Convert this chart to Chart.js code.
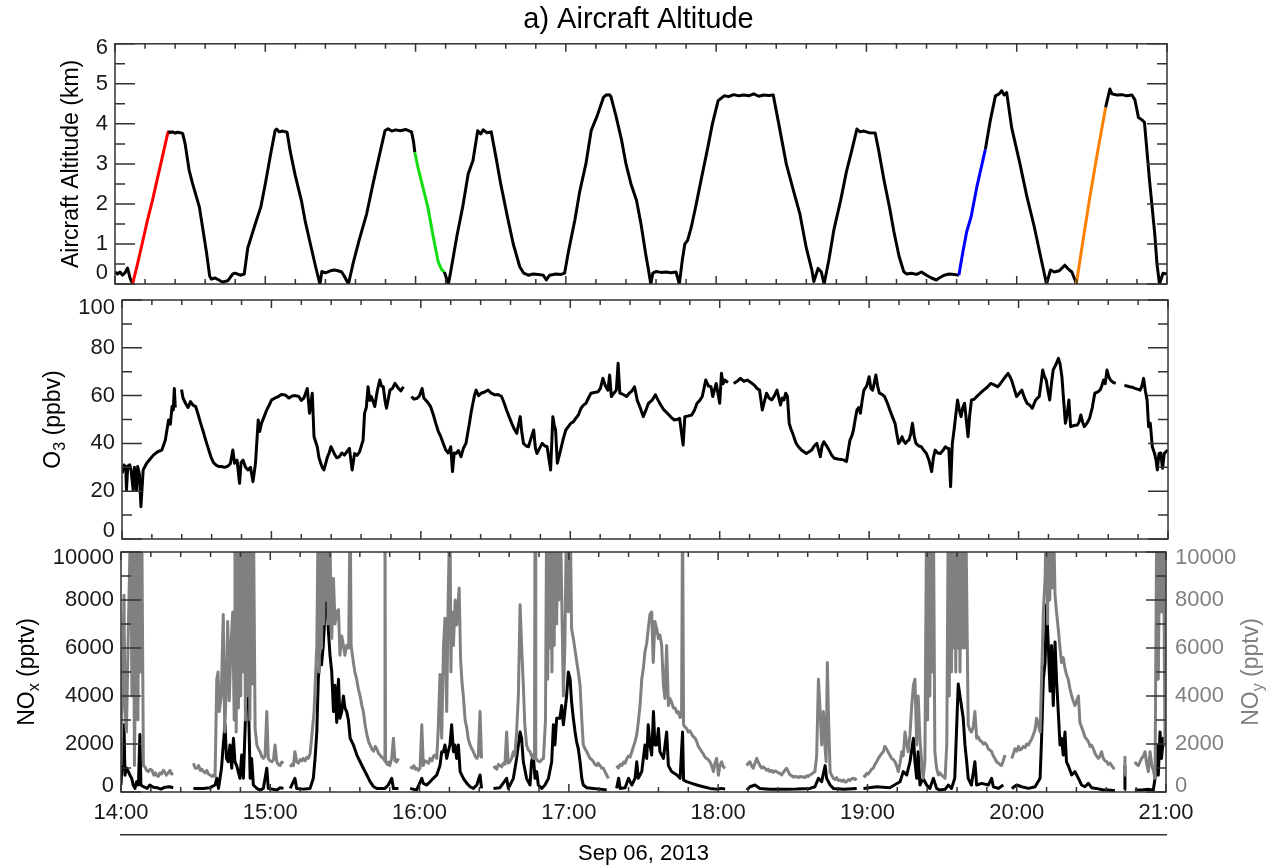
<!DOCTYPE html>
<html>
<head>
<meta charset="utf-8">
<title>Aircraft altitude, O3, NOx and NOy - Sep 06, 2013</title>
<script src="https://cdn.jsdelivr.net/npm/chart.js@4.4.1/dist/chart.umd.min.js"></script>
<style>
  body { margin: 0; background: #fff; }
  #wrap { position: relative; width: 1277px; height: 867px; overflow: hidden; background: #fff; }
  canvas { position: absolute; left: 0; }
</style>
</head>
<body>
<div id="wrap">
  <canvas id="altChart" width="1277" height="300" style="top:0px"></canvas>
  <canvas id="o3Chart" width="1277" height="260" style="top:290px"></canvas>
  <canvas id="noChart" width="1277" height="322" style="top:545px"></canvas>
</div>
<script>
// x values are minutes after 14:00
const hourLabels = ['14:00', '15:00', '16:00', '17:00', '18:00', '19:00', '20:00', '21:00'];

// Aircraft altitude (km)
const altTime = [0, 1, 2, 3, 4, 5, 6, 7,
  9, 11, 13, 15, 17, 19, 21, 21.5,
  22, 23, 24, 25, 26, 27,
  28, 29.6, 31, 33.7, 35, 36.5, 37.8, 38.5,
  40, 42, 43, 45, 47, 48, 50, 51.6,
  53, 55, 56.5, 58.2, 60, 62, 63.9,
  64.5, 65.5, 67, 68.7,
  70, 72, 74.4, 76, 78, 80.1, 81.8,
  82.6, 84, 86, 87.5, 89, 90.5, 91.5, 93.2,
  95, 97.5, 100.5, 103, 105.5, 107.8,
  109, 110.5, 112, 114, 116, 118.4,
  119.2, 119.7, 121, 123, 124.9, 127, 129, 130.5, 131.5,
  133.1,
  134, 136.5, 138.8, 141, 142.9, 144.8,
  146, 147, 148.5, 150.2,
  152, 154, 156.7, 159, 161.6, 163.2,
  165, 167, 169, 171, 172.2, 173.5, 176, 178, 179.5,
  181, 183.6, 185.5, 188, 190.1, 192.5, 195, 196, 197.4, 198,
  200, 202.3, 204, 206, 208.2, 210, 212, 213, 213.9,
  214.7, 216, 218, 220, 222, 224, 225.3,
  226.5, 227.5, 228.6, 230, 231.8, 234, 236.7, 238.5, 240.8, 243.2,
  245, 247, 249, 251, 253, 255, 257, 259, 261, 262.8,
  265, 268, 271, 273.4, 276, 278.2, 279, 280.7, 282, 283.1,
  285, 287, 289.7, 292, 294, 296.2,
  297.5, 299, 301, 303.5,
  305, 307, 309.2, 311, 313, 314.9,
  316, 318, 320, 322, 324, 326, 327.9, 329, 331, 333, 335, 336.9,
  338.5, 340, 341.8, 344, 347.5,
  349.5, 351.5, 353, 354, 355, 356,
  358, 361.3, 364, 367, 369.5, 371.9,
  373.5, 375, 377, 379.2, 380.5, 382, 383.3, 383.8,
  386, 389, 392, 395.5,
  397.2, 398, 400, 402, 404, 406, 407.2, 408.6, 410, 411,
  413, 415.1, 416, 417, 418.4, 420];
const altKm = [0.30, 0.25, 0.30, 0.22, 0.28, 0.40, 0.15, 0.0,
  0.5, 1.05, 1.6, 2.1, 2.65, 3.2, 3.75, 3.83,
  3.78, 3.80, 3.77, 3.79, 3.78, 3.76,
  3.5, 2.84, 2.5, 1.92, 1.4, 0.8, 0.2, 0.12,
  0.15, 0.08, 0.05, 0.08, 0.25, 0.27, 0.22, 0.25,
  0.9, 1.3, 1.6, 1.92, 2.5, 3.2, 3.83,
  3.87, 3.8, 3.82, 3.79,
  3.3, 2.7, 2.09, 1.55, 1.0, 0.43, 0.0,
  0.31, 0.28, 0.33, 0.35, 0.33, 0.3, 0.2, 0.0,
  0.5, 1.1, 1.76, 2.5, 3.2, 3.83,
  3.88, 3.82, 3.85, 3.83, 3.86, 3.8,
  3.55, 3.29, 2.9, 2.4, 1.92, 1.2, 0.56, 0.35, 0.3,
  0.0,
  0.3, 1.2, 1.92, 2.75, 3.08, 3.83,
  3.75, 3.85, 3.78, 3.8,
  3.2, 2.5, 1.67, 1.0, 0.43, 0.27,
  0.22, 0.25, 0.24, 0.22, 0.1, 0.22, 0.25, 0.24, 0.27,
  0.8, 1.6, 2.3, 3.0, 3.83, 4.2, 4.66, 4.72, 4.73, 4.68,
  4.2, 3.58, 3.0, 2.5, 2.09, 1.5, 0.7, 0.35, 0.0,
  0.27, 0.31, 0.29, 0.3, 0.28, 0.3, 0.0,
  0.6, 1.0, 1.09, 1.4, 1.92, 2.6, 3.42, 4.0, 4.58, 4.7,
  4.68, 4.73, 4.7, 4.72, 4.7, 4.75, 4.69, 4.72, 4.71, 4.72,
  4.0, 3.0, 2.3, 1.76, 0.9, 0.35, 0.06, 0.39, 0.3, 0.0,
  0.6, 1.35, 2.09, 2.8, 3.3, 3.87,
  3.8, 3.82, 3.78, 3.77,
  3.3, 2.6, 1.92, 1.3, 0.7, 0.31,
  0.25, 0.27, 0.24, 0.3, 0.22, 0.15, 0.1, 0.15, 0.22, 0.25, 0.24, 0.22,
  0.8, 1.3, 1.68, 2.4, 3.37,
  4.1, 4.7, 4.75, 4.83, 4.72, 4.78,
  3.9, 3.0, 2.2, 1.43, 0.7, 0.0,
  0.35, 0.3, 0.33, 0.47, 0.38, 0.3, 0.1, 0.0,
  0.9, 2.09, 3.2, 4.41,
  4.87, 4.75, 4.72, 4.73, 4.7, 4.72, 4.6, 4.16, 4.1, 4.04,
  2.6, 1.26, 0.5, 0.0, 0.27, 0.25];

// highlighted profiles (start / end minute and colour)
const profileStart = [7, 119.7, 336.9, 383.8];
const profileEnd = [21.5, 131.5, 347.5, 395.5];
const profileColors = ['#ff0000', '#11dd11', '#0000ff', '#ff8000'];

// O3 (ppbv)
const o3Time = [0.1, 0.8, 1.5, 1.8, 2.3, 3.1, 3.6, 4.5, 5, 5.8,
  6.3, 7, 7.6, 8.5, 9.9, 11.3, 12.6, 14.3, 16, 17.4,
  18.7, 19.4, 20.1, 20.6, 21, 21.4, 22.5, 23.9, 24.5, 25.5,
  26.5, 27.5, 28.5, 29.6, 30.6, 31.6, 32.6, 33.6, 34.6, 35.7,
  36.7, 37.7, 38.8, 39.8, 41.2, 42.5, 43.5, 44.5, 45.2, 46.2,
  47.2, 47.8, 48.6, 49.6, 50.6, 51.6, 52.6, 53.6, 54.7, 55.3,
  56, 57, 58.1, 59.1, 60.1, 61.5, 62.8, 64, 65.5, 67,
  68.3, 69.6, 71, 72, 73, 74.4, 75.3, 76.4, 77.1, 78.4,
  79.1, 79.8, 80.4, 81.1, 82.5, 83.2, 83.9, 85.2, 86.2, 87.2,
  88.3, 89.3, 90.3, 91.3, 92.4, 93.4, 94.4, 95.4, 96.8, 97.4,
  98.1, 98.8, 99.5, 100.1, 101.5, 102.5, 103.5, 104.2, 104.9, 105.6,
  106.2, 107.6, 108.6, 109.6, 111, 112, 113, 113.3, 116.2, 117.3,
  118.5, 119.5, 120.5, 121.2, 121.9, 122.9, 123.9, 125, 126, 127,
  128, 129, 130, 131, 132, 132.7, 133.4, 134.1, 135.1, 136.1,
  137.1, 138.1, 139.5, 140.2, 140.9, 141.5, 142.2, 143.2, 144.2, 145.6,
  147, 148.3, 149.7, 151, 152.4, 153.4, 154.4, 155.5, 156.5, 157.5,
  158.5, 159.9, 160.5, 161.2, 162.2, 163.2, 164.2, 165.3, 166, 166.6,
  167.7, 168.7, 169.7, 170.7, 172.1, 173, 173.5, 174.1, 174.8, 176.1,
  177.2, 178.2, 179.2, 180.2, 181.2, 182.2, 183.3, 184.3, 185.3, 186.3,
  187.3, 188.3, 189.7, 191.1, 192.1, 193.1, 194.1, 195.1, 195.8, 196.5,
  197.5, 198.5, 199.2, 199.9, 201.2, 202.6, 203.7, 204.8, 205.8, 206.9,
  207.9, 209.3, 210.4, 211.4, 212.8, 214.2, 215.3, 216.3, 217.6, 219,
  220.4, 221.8, 222.9, 223.9, 225.3, 226, 227.4, 228.8, 229.9, 230.9,
  232, 233, 234.4, 235.5, 236.5, 237.2, 238.6, 240, 240.7, 241.4,
  242.1, 243.3, 243.6, 245.6, 247, 248.3, 249.7, 251.1, 252.5, 253.9,
  255, 256, 257.1, 258.8, 259.8, 260.9, 262, 263, 264.4, 265.1,
  265.8, 266.5, 267.2, 267.9, 268.6, 269.3, 270, 270.7, 271.7, 272.8,
  273.8, 274.8, 275.9, 276.9, 278, 279, 280.4, 281.1, 281.8, 282.9,
  283.9, 285, 286, 287.4, 288.8, 289.9, 290.9, 291.6, 292.3, 293,
  293.7, 294.4, 295.1, 295.8, 296.5, 297.2, 297.9, 299, 300, 300.7,
  301.4, 302, 302.7, 303.4, 304.1, 305.2, 306.2, 307.3, 308.3, 309.4,
  310.4, 311.1, 311.8, 312.5, 313.2, 313.9, 314.6, 315.3, 316, 316.7,
  317.4, 318.1, 318.8, 319.9, 320.9, 322, 323, 324, 325.1, 325.8,
  326.5, 327.5, 328.6, 329.6, 330.6, 331.3, 332, 332.7, 333.4, 334.1,
  334.8, 335.5, 336.2, 336.9, 337.6, 338.3, 339, 339.7, 340.4, 341.1,
  342.2, 343.2, 344.6, 346, 347.4, 348.8, 350.2, 351.6, 352.7, 353.7,
  354.8, 355.8, 356.5, 357.2, 358.2, 359.2, 360.3, 361.3, 362.4, 363.4,
  364.5, 365.5, 366.2, 366.9, 367.6, 368.3, 369, 369.7, 370.4, 371.1,
  371.8, 372.5, 373.2, 373.9, 375, 376, 376.7, 377.4, 378.1, 378.8,
  379.5, 380.2, 380.9, 382.3, 383.6, 384.3, 385, 385.7, 386.4, 387.5,
  388.5, 389.6, 390.6, 391.7, 392.7, 393.4, 394.1, 394.8, 395.5, 396.2,
  396.9, 398, 399, 399.3, 402.5, 403.5, 404.6, 405.6, 406.7, 407.7,
  408.8, 409.5, 410.2, 410.9, 411.6, 412.2, 412.9, 413.7, 414.6, 415.2,
  415.7, 416.4, 417.1, 417.8, 418.5, 419.2, 419.9];
const o3Ppbv = [27.5, 31, 30, 20.5, 30.5, 31, 29, 20.5, 30, 20.5,
  30.3, 27, 13.5, 28.9, 31.7, 33.5, 35.1, 36.5, 37.2, 41.4,
  49.8, 48, 55.4, 54, 63, 55, null, 62.5, 59, 56.8,
  55, 57.5, 56, 55.4, 52, 48.4, 45, 41.4, 38, 34.4,
  32, 31, 30.3, 30.3, 30, 30.5, 31.5, 37.2, 31.7, 33,
  23.3, 32, 33, 30, 28.9, 30, 24, 31.7, 49.8, 45,
  48.4, 51, 54, 56, 58.2, 59, 59.6, 60.5, 60.3, 59,
  59.8, 60, 59.6, 58, 58.9, 63, 52.6, 61, 42.8, 38.6,
  34, 31.7, 30, 28.9, 34.4, 36, 38.6, 35.8, 34, 34.4,
  36, 35.1, 36.5, 37.9, 28.9, 35.8, 35, 36.5, 41.4, 52.6,
  55, 63.7, 58, 59.6, 55.4, 62, 66.5, 64, 63.7, 58,
  54.7, 62.3, 63, 65.1, 63, 62, 63.7, null, 59.6, 58.5,
  58.9, 60, 63, 59, 58.2, 57, 55.4, 52, 48.4, 45,
  42.8, 40, 37.2, 36, 38.6, 28.2, 36, 35.8, 37, 34.4,
  38, 40, 48.4, 53, 56.8, 60, 62.3, 60, 61, 61.5,
  62.3, 61, 60.3, 60.5, 59.6, 57, 54, 51, 48.4, 46,
  44.2, 51.2, 45, 40, 39, 38.6, 42, 45.6, 38, 35.8,
  38, 40, 39, 38.6, 28.9, 51.2, 48, 45.6, 31.7, 37.2,
  42, 45.6, 47, 48.4, 49, 50.5, 52, 54.7, 56, 56.8,
  59, 61, 61.3, 61.6, 63, 67.2, 64, 62.3, 68.6, 59.6,
  61, 62.3, 73.5, 61, 60.5, 59.6, 61, 62, 63.7, 58,
  55.4, 51.2, 54, 56.8, 58, 60.3, 58, 56.1, 54, 52.6,
  51, 49.8, 50, 50.5, 39.3, 51.2, 51.5, 51.9, 54, 56.8,
  58, 59.6, 66.5, 64, 63.7, 59.6, 65.1, 56.8, 69.3, 65,
  66.5, 65.5, null, 65.1, 66, 67.2, 66, 66.5, 65.5, 64.4,
  63, 62.3, 54, 61, 59, 58.2, 60, 62.3, 56.1, 59,
  58.2, 61, 59.6, 48.4, 46, 44.2, 42, 40, 38.5, 37.2,
  36.5, 35.8, 36.5, 37.2, 39, 40, 34.4, 39, 40.7, 39,
  37.2, 35, 33.8, 33.5, 33.3, 33, 32.4, 37, 41.4, 43,
  45.6, 50, 54, 55, 52.6, 58, 62.3, 64, 67.9, 63,
  62.3, 65, 68.6, 64, 61, 60.5, 59.6, 57, 54, 51,
  48.4, 44, 40, 41, 42.8, 41, 40, 41, 41.4, 44,
  48.4, 43, 40, 39, 38.6, 37, 35.8, 33, 28.2, 34,
  37.2, 36, 35.8, 37, 38.6, 38, 37.9, 21.9, 40, 45.6,
  52, 58.2, 54, 51.2, 55, 56.8, 50, 42.8, 52, 58.2,
  58.5, 59.6, 61, 62.3, 63.5, 65.1, 64.5, 63.7, 65, 66.5,
  68, 69.3, 68, 66.5, 63, 59.6, 61, 62.3, 59, 56.8,
  56, 54.7, 56.5, 58.2, 59, 59.6, 65, 70.7, 68, 66.5,
  62, 58.2, 65, 70.7, 73, 75.6, 73, 67.9, 58, 48.4,
  52, 58.2, 47, 47.5, 47.7, 49, 51.9, 49, 47, 48.5,
  50.5, 55, 61, 61.5, 62.3, 64, 66.5, 65, 70.7, 68,
  66.5, 65.5, 65.1, null, 64.4, 64, 63.7, 63.5, 63, 62.7,
  62.3, 64, 67.2, 62, 58.2, 47, 48.4, 38.6, 35.8, 33,
  28.9, 35.8, 36, 29.6, 35.8, 36.5, 37.2];

// NOx (pptv, black, left axis)
const noxTime = [0, 0.6, 1.2, 1.6, 2.2, 2.95, 3.6, 4.3, 4.9, 5.6,
  6.3, 7, 7.6, 8, 9, 10.5, 11.6, 13, 14.5, 16,
  17.7, 19.5, 21, 21.5, 29.1, 33.1, 35.8, 37.8, 38.5, 39.2,
  40.4, 41.1, 41.8, 42.4, 43.1, 43.8, 44.5, 45.2, 45.8, 46.5,
  47.8, 48.5, 49.2, 50, 50.5, 51.2, 51.9, 52.5, 53.2, 54.6,
  55.9, 57.2, 58.6, 59.2, 62.6, 63.9, 65.3, 65.8, 68, 69.9,
  70.6, 73.3, 76, 77.3, 78, 78.7, 79.3, 80, 80.6, 81.3,
  82, 82.7, 83.3, 84, 84.7, 85.4, 86, 86.7, 87.4, 88,
  88.7, 89.4, 90, 90.7, 91.4, 92.1, 93.4, 94.8, 96.1, 97.4,
  98.8, 100.1, 101.5, 102.8, 104.1, 106.1, 107.4, 108.8, 109.5, 111.5,
  112, 116.2, 118.8, 120.9, 121.5, 122.9, 124.2, 125.5, 126.9, 128.2,
  128.9, 129.6, 130.2, 130.9, 131.5, 132.2, 132.9, 133.6, 134.2, 134.9,
  135.6, 136.3, 137.6, 139, 140.3, 141.6, 143, 144.3, 144.9, 145.6,
  149.7, 152.3, 155, 155.7, 157.7, 159, 160.4, 161, 161.7, 163,
  164.4, 165, 165.7, 166.4, 167.1, 167.7, 169.1, 170.4, 171.8, 173.1,
  173.8, 174.4, 175.1, 176.4, 177.1, 177.8, 178.4, 179.1, 179.8, 180.5,
  181.1, 181.8, 182.5, 183.1, 183.8, 184.5, 185.2, 185.8, 187.2, 189.9,
  192.5, 195.2, 196.5, 199.2, 200, 200.6, 202.6, 204, 205.3, 206.6,
  207.3, 207.9, 209.3, 210.6, 211.3, 211.9, 212.6, 213.3, 214, 214.6,
  215.3, 216, 216.6, 218, 219.3, 220, 221.3, 223.4, 224.7, 225.7,
  226.1, 227.3, 229.4, 231.4, 234, 236.7, 239.4, 241.4, 242.8, 243.4,
  251.5, 252.8, 254.8, 256.8, 260.8, 266.2, 271.6, 276.9, 278.9, 280.3,
  281.6, 283, 283.6, 285, 286.3, 290.4, 295.7, 296.3, 298.4, 303.7,
  309, 313.1, 314.4, 315.8, 317.1, 318.5, 319.1, 319.8, 320.4, 321.1,
  322.4, 323.8, 325.1, 326.5, 327.8, 329.1, 331.2, 332.5, 333.8, 335.1,
  336.5, 337.2, 338.5, 339.2, 339.9, 340.5, 341.8, 343.2, 343.9, 345.9,
  348.6, 349.9, 350.6, 352.6, 354.6, 355.9, 358, 360, 362, 364.7,
  367.4, 369.4, 370, 370.7, 371.4, 372, 372.7, 373.4, 374, 374.7,
  375.4, 376, 376.7, 377.4, 378, 378.7, 379.4, 380, 380.7, 382.1,
  383.4, 384.8, 386.1, 387.4, 388.8, 390.1, 392, 394.8, 396.8, 399.5,
  400, 403.3, 403.5, 403.7, 407.5, 410.2, 412.9, 414.9, 415.6, 416.3,
  416.9, 417.6, 418.2, 418.9, 419.6, 420];
const noxPptv = [290, 1500, 2800, 700, 1000, 850, 700, 570, 290, 150,
  430, 290, 2400, 290, 220, 150, 290, 200, 180, 120,
  200, 220, 180, null, 150, 150, 180, 290, 570, 150,
  1000, 1960, 2800, 1400, 1260, 1960, 990, 2240, 1260, 1100,
  570, 1540, 570, 3000, 5850, 4000, 570, 1400, 290, 150,
  80, 150, 990, 150, 80, 180, 150, null, 150, 570,
  150, 120, 150, 570, 1400, 2500, 4700, 5700, 5300, 6100,
  7500, 8600, 6800, 5700, 5000, 3350, 4450, 2900, 4700, 3070,
  3350, 4000, 3500, 3350, 3000, 2240, 1960, 1540, 1260, 990,
  710, 430, 220, 150, 150, 150, 290, 570, 150, 150,
  null, 150, 80, 570, 360, 290, 430, 570, 710, 1100,
  1680, 1680, 1960, 1400, 1680, 1960, 2800, 1680, 1960, 1400,
  1960, 850, 570, 360, 220, 150, 290, 710, 150, null,
  150, 180, 570, 150, 570, 1400, 2500, 2240, 1260, 570,
  290, 1260, 1540, 570, 850, 290, 150, 290, 570, 1260,
  2800, 1960, 3070, 3070, 3600, 2800, 3350, 4000, 5000, 4700,
  3750, 3070, 2500, 2100, 1800, 1260, 570, 290, 180, 150,
  120, 80, null, 150, 570, 150, 180, 570, 290, 570,
  1260, 570, 850, 1960, 1400, 2800, 1960, 1540, 3350, 1960,
  1960, 2650, 1680, 1400, 2500, 1100, 850, 710, 570, 2500,
  500, 430, 360, 290, 220, 150, 120, 150, 120, null,
  80, 220, 290, 150, 110, 110, 120, 150, 220, 570,
  430, 1100, 570, 290, 150, 110, 150, null, 150, 220,
  180, 430, 850, 710, 1260, 2240, 1260, 570, 1680, 290,
  570, 290, 150, 570, 150, 80, 110, 290, 150, 570,
  4500, 4000, 3070, 1960, 1260, 570, 290, 1260, 290, 360,
  290, 570, 220, 150, 290, null, 150, 290, 220, 150,
  220, 570, 2240, 4700, 5400, 7800, 6100, 4200, 6100, 3600,
  6250, 4700, 3350, 1960, 2240, 1540, 2500, 1260, 1100, 710,
  850, 570, 290, 220, 360, 180, 150, 80, 80, 50,
  null, 100, 1100, null, 80, 80, 110, 80, 570, 1960,
  700, 2500, 1400, 2240, 1960, 2600];

// NOy (pptv, grey, right axis)
const noyTime = [0, 0.6, 1.2, 1.6, 2.2, 2.8, 3.4, 3.9, 4.4, 4.9,
  5.4, 5.9, 6.3, 6.8, 7.3, 7.8, 8.3, 9, 9.6, 10.3,
  11, 11.7, 12.5, 13.2, 13.9, 14.3, 15, 15.7, 16.3, 17,
  17.5, 18.2, 19, 19.7, 20.3, 21, 21.5,
  29.1, 29.8, 30.5, 31.2, 31.9, 32.5, 33.1, 33.8, 34.5, 35.1,
  35.8, 36.5, 37.2, 37.8,
  38.5, 39, 39.5, 40.3, 41.1, 41.7, 42.4, 42.9, 43.5, 44.2,
  44.9, 45.5, 45.8, 46.3, 46.7, 47.2, 47.6, 48.1, 48.5, 49,
  49.5, 50, 50.4, 50.9, 51.3, 51.8, 52.2, 52.7, 53.2, 53.9,
  54.6, 55.2, 55.9, 56.5, 57.2, 57.9, 58.6, 59.2, 59.9, 60.6,
  61.3, 61.9, 62.6, 63.2, 63.9, 64.6, 65.3, 65.8,
  68, 68.7, 69.3, 69.9, 70.6, 71.3, 72, 72.7, 73.3, 74,
  74.7, 75.3, 76, 76.6, 77.6, 78.7, 79.3, 79.7, 80.1, 80.6,
  81, 81.5, 81.9, 82.4, 82.8, 83.3, 83.7, 84.7, 85.4, 86,
  86.7, 87.4, 88, 88.7, 89.4, 90, 90.7, 91.5, 92.1, 92.5,
  93.4, 94, 94.7, 95.4, 96.1, 96.8, 97.4, 98.1, 98.8, 99.5,
  100.1, 100.8, 101.5, 102.2, 102.8, 103.5, 104.1, 104.8, 105.5, 106,
  106.1, 106.3, 107, 107.5, 108, 108.8, 109.5, 110.1, 110.8, 111.5,
  112,
  116.2, 117, 117.7, 118.3, 118.8, 119.5, 120.2, 120.9, 121.5, 122.2,
  122.9, 123.6, 124.2, 125, 125.6, 126.2, 126.9, 127.5, 128.2, 128.9,
  129.6, 130.2, 130.9, 131.5, 132.2, 132.6, 132.9, 133.6, 134.3, 134.9,
  135.9, 136.5, 137.1, 137.6, 138.3, 139, 139.6, 140.3, 141, 141.6,
  142.3, 143, 143.6, 144.3, 144.9, 145.6,
  149.7, 150.4, 151, 151.7, 152.3, 153, 153.7, 154.3, 155, 155.6,
  156.3, 157, 157.7, 158.3, 159, 159.7, 160.4, 161, 161.7, 162.3,
  163, 163.7, 164.4, 165, 165.7, 166.2, 166.4, 166.7, 167.5, 168.4,
  169.1, 169.8, 170.6, 171.1, 171.5, 172, 172.4, 172.8, 173.2, 173.7,
  174.1, 174.6, 175.1, 175.6, 176, 176.5, 177.1, 177.8, 178.4, 179.1,
  179.8, 180.5, 181.1, 181.8, 182.5, 183.2, 183.8, 184.5, 185.2, 185.8,
  186.5, 187.2, 187.8, 188.5, 189.2, 189.9, 190.5, 191.2, 191.8, 192.5,
  193.2, 193.9, 194.5, 195.2, 195.9, 196.5,
  199.2, 199.9, 200.6, 201.3, 202, 202.6, 203.3, 204, 204.6, 205.3,
  206, 206.6, 207.3, 207.9, 208.6, 209.3, 210, 210.6, 211.3, 211.9,
  212.6, 213.3, 213.9, 214.6, 215.3, 216, 216.6, 217.3, 218, 218.6,
  219.3, 220, 220.6, 221.3, 222, 222.7, 223.4, 224, 224.7, 225.3,
  225.7, 226.1, 226.7, 227.3, 228, 228.7, 229.4, 230, 230.7, 231.4,
  232, 232.7, 233.4, 234, 234.7, 235.4, 236, 236.7, 237.4, 238.1,
  238.7, 239.4, 240.1, 240.7, 241.4, 242.1, 242.8, 243.4,
  251.5, 252.1, 252.8, 253.4, 254.1, 254.8, 255.5, 256.1, 256.8, 257.5,
  258.1, 258.8, 259.5, 260.1, 260.8, 261.5, 262.1, 262.8, 263.5, 264.1,
  264.8, 265.5, 266.1, 266.8, 267.5, 268.2, 268.9, 269.6, 270.2, 270.9,
  271.6, 272.3, 272.9, 273.6, 274.2, 274.9, 275.6, 276.2, 276.9, 277.6,
  278.2, 278.9, 279.6, 280.3, 281, 281.6, 282.3, 283, 283.4, 283.9,
  284.3, 285, 285.6, 286.3, 287, 287.6, 288.3, 289, 289.7, 290.4,
  291, 291.7, 292.4, 293, 293.7, 294.4, 295, 295.7, 296.3,
  298.4, 299, 299.7, 300.4, 301, 301.7, 302.4, 303, 303.7, 304.4,
  305, 305.7, 306.4, 307, 307.7, 308.4, 309, 309.7, 310.4, 311.1,
  311.7, 312.4, 313.1, 313.8, 314.4, 315.1, 315.8, 316.4, 317.1, 317.8,
  318.5, 319.1, 319.8, 320.4, 321.1, 321.8, 322.4, 323.1, 323.8, 324.2,
  324.6, 325.1, 325.5, 326, 326.5, 327.1, 327.8, 328.5, 329.1, 329.8,
  330.5, 331.2, 331.9, 332.5, 332.9, 333.3, 333.8, 334.2, 334.6, 335.1,
  335.5, 335.9, 336.4, 336.8, 337.2, 337.7, 338.1, 338.6, 339, 339.5,
  340.5, 341.1, 341.8, 342.5, 343.2, 343.9, 344.5, 345.2, 345.9, 346.6,
  347.2, 347.9, 348.6, 349.2, 349.9, 350.6, 351.2, 351.9, 352.6, 353.2,
  353.9, 354.6, 355.3, 355.9,
  358, 358.7, 359.3, 360, 360.7, 361.3, 362, 362.7, 363.4, 364,
  364.7, 365.4, 366, 366.7, 367.4, 368, 368.7, 369.4, 370, 370.7,
  371.4, 372, 372.4, 372.8, 373.3, 373.7, 374.2, 374.7, 375.4, 376,
  376.7, 377.4, 378, 378.7, 379.4, 380, 380.7, 381.4, 382.1, 382.7,
  383.4, 384.1, 384.8, 385.4, 386.1, 386.8, 387.4, 388.1, 388.8, 389.5,
  390.1, 390.8, 391.5, 392.1, 392.8, 393.5, 394.1, 394.8, 395.5, 396.2,
  396.8, 397.5, 398.2, 398.8, 399.5, 400,
  403.3, 403.5, 403.7, 407.5, 408.2, 408.9, 409.5, 410.2, 410.9, 411.6,
  412.2, 412.9, 413.6, 414.3, 414.9, 415.6, 416.3, 416.9, 417.6, 418.2,
  418.9, 419.6, 420];
const noyPptv = [1100, 5000, 8200, 3500, 2500, 6000, 9000, 12000, 4000, 12000,
  1100, 6000, 12000, 3000, 12000, 5000, 12000, 1100, 1050, 900,
  850, 950, 900, 700, 800, 700, 650, 800, 750, 900,
  850, 700, 800, 900, 750, 780, null,
  1200, 1000, 990, 1100, 900, 950, 850, 800, 900, 750,
  710, 650, 700, 640,
  4700, 5000, 3350, 4000, 7400, 2500, 4700, 7100, 3800, 6100,
  7500, 3000, 12000, 2500, 12000, 3500, 12000, 4000, 12000, 5000,
  12000, 3000, 12000, 4000, 12000, 3000, 12000, 4500, 12000, 2650,
  1960, 1800, 1680, 1500, 1400, 1500, 3350, 1400, 1300, 1260,
  1350, 1960, 1260, 1150, 1100, 1250, 1200, null,
  1050, 1150, 1100, 1680, 1260, 1200, 1350, 1300, 1400, 1300,
  1450, 1400, 1600, 2240, 3350, 6100, 12000, 5000, 12000, 6000,
  12000, 7000, 12000, 8000, 12000, 7000, 12000, 6400, 8900, 7000,
  7500, 7600, 5700, 6500, 6100, 5700, 6100, 6000, 12000, 6100,
  5400, 5000, 4700, 4300, 4000, 3600, 3350, 2800, 2400, 2100,
  1960, 1800, 1700, 1900, 1800, 1600, 1540, 1450, 1400, 1300,
  12000, 1260, 1150, 1250, 1100, 1400, 2240, 1300, 1250, 1400,
  null,
  1050, 1000, 1100, 950, 990, 900, 1000, 2800, 1100, 1300,
  1260, 1200, 1400, 1300, 1500, 1540, 1400, 2600, 4900, 2240,
  6000, 7240, 3350, 8000, 12000, 5000, 7500, 6100, 8000, 6960,
  8500, 5500, 4500, 4000, 3000, 2650, 2200, 1960, 1800, 1680,
  1500, 1400, 1500, 3350, 1400, null,
  990, 1050, 950, 1150, 1100, 1050, 1200, 1150, 2500, 1200,
  1260, 1400, 1680, 1500, 2500, 4000, 7800, 6100, 4450, 2800,
  1960, 1750, 1680, 1500, 1400, 1400, 12000, 1400, 1300, 1260,
  1350, 1400, 3000, 12000, 4700, 12000, 6000, 12000, 5000, 12000,
  6100, 12000, 7000, 12000, 8000, 12000, 8350, 4000, 6100, 12000,
  7500, 12000, 6800, 6400, 5900, 5400, 5000, 4450, 3000, 1960,
  1800, 1680, 1550, 1400, 1350, 1260, 1150, 1100, 1200, 1100,
  1000, 990, 850, 710, 570, null,
  1100, 1000, 1150, 1100, 1250, 1200, 1400, 1500, 1450, 1680,
  1900, 2100, 2400, 2900, 3600, 4700, 5200, 5850, 6200, 6800,
  7400, 7500, 5400, 7100, 6800, 6400, 6550, 6100, 4450, 3900,
  6100, 3600, 3900, 3750, 3500, 3500, 3300, 3350, 3100, 3200,
  12000, 2800, 2700, 2650, 2500, 2550, 2400, 2300, 2250, 2100,
  1900, 1800, 1680, 1600, 1450, 1400, 1350, 1260, 1100, 850,
  1200, 1400, 700, 1100, 1260, 1050, 990, null,
  1100, 1200, 1260, 1100, 990, 1200, 1400, 1250, 1100, 1000,
  1050, 990, 900, 950, 850, 900, 820, 880, 850, 800,
  780, 710, 800, 900, 990, 850, 710, 680, 620, 650,
  640, 600, 650, 620, 640, 600, 680, 650, 710, 750,
  800, 850, 1500, 4700, 3350, 1960, 3350, 1800, 1260, 5400,
  3350, 850, 700, 570, 520, 600, 480, 500, 450, 500,
  420, 430, 520, 480, 550, 570, 520, 570, null,
  710, 650, 780, 750, 850, 950, 1000, 1150, 1260, 1400,
  1500, 1600, 1680, 1900, 1800, 1650, 1540, 1400, 1350, 1260,
  1100, 850, 1200, 1680, 1500, 2500, 2000, 1680, 2400, 3600,
  4450, 4700, 1960, 4000, 2200, 1260, 570, 1300, 12000, 3000,
  12000, 4000, 12000, 5000, 12000, 1680, 990, 710, 800, 700,
  650, 570, 2000, 12000, 4000, 12000, 5000, 12000, 6000, 12000,
  5000, 12000, 6000, 12000, 5000, 12000, 6000, 12000, 6000, 12000,
  2800, 2600, 2500, 2700, 3350, 2240, 2300, 2150, 2100, 2000,
  2050, 1960, 1800, 1750, 1680, 1500, 1400, 1260, 1200, 1150,
  1100, 1300, 1540, null,
  1400, 1600, 1800, 1700, 1900, 1750, 1800, 1900, 1850, 2000,
  1960, 2100, 2200, 2400, 2600, 3070, 2800, 2500, 4700, 7500,
  8900, 12000, 7000, 12000, 8000, 12000, 8500, 12000, 8200, 7500,
  6800, 6000, 5400, 5600, 5150, 4900, 4700, 4300, 4000, 3800,
  3600, 3800, 4000, 2900, 2700, 2500, 2300, 2200, 2100, 1900,
  1950, 1800, 1600, 1500, 1400, 1500, 1680, 1400, 1300, 1260,
  1150, 1200, 1100, 1000, 990, null,
  700, 1500, null, 1260, 1150, 1100, 1250, 1400, 1500, 1680,
  1200, 850, 1680, 1100, 900, 570, 12000, 4700, 12000, 7500,
  12000, 1960, 9000];

const FONT = "'Liberation Sans', Arial, Helvetica, sans-serif";
const INK = '#1a1a1a';
const GREY = '#808080';

Chart.defaults.font.family = FONT;
Chart.defaults.font.size = 22;
Chart.defaults.color = INK;

function toPoints(times, values) {
    if (times.length !== values.length) {
        console.error('length mismatch', times.length, values.length);
    }
    return times.map((t, i) => ({ x: t, y: values[i] }));
}

// colour the highlighted altitude profiles
function profileColor(ctx) {
    const a = ctx.p0.parsed.x, b = ctx.p1.parsed.x;
    for (let i = 0; i < profileStart.length; i++) {
        if (a >= profileStart[i] - 1e-6 && b <= profileEnd[i] + 1e-6) return profileColors[i];
    }
    return undefined;
}

// box round the plot area with inward ticks on every side
const frameTicks = {
    id: 'frameTicks',
    afterDatasetsDraw(chart, args, opts) {
        const { ctx, chartArea: a, scales } = chart;
        const x = scales.x, y = scales.y;
        ctx.save();
        ctx.strokeStyle = '#333';
        ctx.lineWidth = 1.5;
        ctx.strokeRect(a.left, a.top, a.right - a.left, a.bottom - a.top);
        ctx.beginPath();
        const nx = Math.round((x.max - x.min) / opts.xMinor);
        for (let i = 0; i <= nx; i++) {
            const v = x.min + i * opts.xMinor;
            const major = Math.abs(v / opts.xMajor - Math.round(v / opts.xMajor)) < 1e-6;
            const len = major ? 8 : 5;
            const px = x.getPixelForValue(v);
            ctx.moveTo(px, a.bottom); ctx.lineTo(px, a.bottom - len);
            ctx.moveTo(px, a.top); ctx.lineTo(px, a.top + len);
        }
        const ny = Math.round((y.max - y.min) / opts.yMinor);
        for (let i = 0; i <= ny; i++) {
            const v = y.min + i * opts.yMinor;
            const major = Math.abs(v / opts.yMajor - Math.round(v / opts.yMajor)) < 1e-6;
            const len = major ? 20 : 10;
            const py = y.getPixelForValue(v);
            ctx.moveTo(a.left, py); ctx.lineTo(a.left + len, py);
            ctx.moveTo(a.right, py); ctx.lineTo(a.right - len, py);
        }
        ctx.stroke();
        ctx.restore();
    }
};

// rotated axis titles with subscripts (O3, NOx, NOy)
const subTitles = {
    id: 'subTitles',
    afterDraw(chart, args, opts) {
        const { ctx, chartArea: a } = chart;
        (opts.items || []).forEach(item => {
            ctx.save();
            ctx.translate(item.x, (a.top + a.bottom) / 2);
            ctx.rotate(-Math.PI / 2);
            ctx.fillStyle = item.color;
            ctx.textBaseline = 'middle';
            ctx.textAlign = 'left';
            const big = '23px ' + FONT, small = '16px ' + FONT;
            let total = 0;
            item.parts.forEach(p => { ctx.font = p.sub ? small : big; total += ctx.measureText(p.text).width; });
            let px = -total / 2;
            item.parts.forEach(p => {
                ctx.font = p.sub ? small : big;
                ctx.fillText(p.text, px, p.sub ? 7 : 0);
                px += ctx.measureText(p.text).width;
            });
            ctx.restore();
        });
    }
};

// fixed axis sizes, so the three plot boxes line up where the reference has them
function fixWidth(w) {
    return s => { s.width = w; s.paddingTop = 0; s.paddingBottom = 0; };
}
function fixHeight(h) {
    return s => { s.height = h; s.paddingLeft = 0; s.paddingRight = 0; };
}

function xScale(show) {
    return {
        type: 'linear', min: 0, max: 420, display: show, weight: 0,
        afterFit: fixHeight(show ? 43 : 0),
        grid: { display: false, drawTicks: false },
        border: { display: false },
        ticks: {
            display: show,
            stepSize: 60, autoSkip: false, maxRotation: 0, padding: 8, color: INK,
            font: { size: 22 },
            callback: v => hourLabels[Math.round(v / 60)]
        }
    };
}

// end labels are nudged inside the frame through a two-line label
function yTicks(min, max, step, shiftTop, shiftBottom, color, pad) {
    return {
        stepSize: step, padding: pad, color: color, autoSkip: false,
        callback: v => v === min ? [String(v), ''] : v === max ? ['', String(v)] : String(v),
        font: c => {
            const v = c.tick ? c.tick.value : null;
            const lh = v === min ? shiftBottom * 2 : v === max ? shiftTop * 2 : 26;
            return { family: FONT, size: 22, lineHeight: lh + 'px' };
        }
    };
}

const common = {
    responsive: false,
    devicePixelRatio: 1,
    animation: false,
    events: [],
    elements: {
        point: { radius: 0 },
        line: { tension: 0, borderJoinStyle: 'round' }
    }
};

// a) aircraft altitude
new Chart(document.getElementById('altChart'), {
    type: 'line',
    data: {
        datasets: [{
            data: toPoints(altTime, altKm),
            borderColor: '#000',
            borderWidth: 3,
            segment: { borderColor: profileColor }
        }]
    },
    options: {
        ...common,
        layout: { padding: { left: 0, right: 0, top: 0, bottom: 16 } },
        plugins: {
            legend: { display: false },
            tooltip: { enabled: false },
            title: {
                display: true, text: 'a) Aircraft Altitude', color: '#000',
                font: { size: 29, weight: 'normal' }, padding: { top: 3, bottom: 6 }
            },
            frameTicks: { xMinor: 12, xMajor: 60, yMinor: 0.5, yMajor: 1 }
        },
        scales: {
            x: xScale(false),
            y: {
                min: 0, max: 6,
                afterFit: fixWidth(115),
                grid: { display: false, drawTicks: false },
                border: { display: false },
                ticks: yTicks(0, 6, 1, 4, 11, INK, 7),
                title: {
                    display: true, text: 'Aircraft Altitude (km)', color: '#000',
                    font: { size: 23 }, padding: { top: 58, bottom: 0 }
                }
            },
            // empty right margin so the title centres on the page
            yRight: {
                display: true, position: 'right', min: 0, max: 6,
                afterFit: fixWidth(110),
                grid: { display: false, drawTicks: false },
                border: { display: false },
                ticks: { display: false }
            }
        }
    },
    plugins: [frameTicks]
});

// O3
new Chart(document.getElementById('o3Chart'), {
    type: 'line',
    data: {
        datasets: [{
            data: toPoints(o3Time, o3Ppbv),
            borderColor: '#000',
            borderWidth: 3,
            spanGaps: false
        }]
    },
    options: {
        ...common,
        layout: { padding: { left: 0, right: 109, top: 10, bottom: 11 } },
        plugins: {
            legend: { display: false },
            tooltip: { enabled: false },
            frameTicks: { xMinor: 12, xMajor: 60, yMinor: 10, yMajor: 20 },
            subTitles: { items: [{ x: 54, color: '#000', parts: [{ text: 'O' }, { text: '3', sub: true }, { text: ' (ppbv)' }] }] }
        },
        scales: {
            x: xScale(false),
            y: {
                min: 0, max: 100,
                afterFit: fixWidth(122),
                grid: { display: false, drawTicks: false },
                border: { display: false },
                ticks: yTicks(0, 100, 20, 8, 8, INK, 7)
            }
        }
    },
    plugins: [frameTicks, subTitles]
});

// NOx and NOy
new Chart(document.getElementById('noChart'), {
    type: 'line',
    data: {
        datasets: [{
            label: 'NOy',
            data: toPoints(noyTime, noyPptv),
            borderColor: GREY,
            borderWidth: 3,
            spanGaps: false,
            yAxisID: 'y2'
        }, {
            label: 'NOx',
            data: toPoints(noxTime, noxPptv),
            borderColor: '#000',
            borderWidth: 3,
            spanGaps: false,
            yAxisID: 'y'
        }]
    },
    options: {
        ...common,
        layout: { padding: { left: 0, right: 0, top: 7, bottom: 0 } },
        plugins: {
            legend: { display: false },
            tooltip: { enabled: false },
            frameTicks: { xMinor: 12, xMajor: 60, yMinor: 1000, yMajor: 2000 },
            subTitles: {
                items: [
                    { x: 28, color: '#000', parts: [{ text: 'NO' }, { text: 'x', sub: true }, { text: ' (pptv)' }] },
                    { x: 1252, color: GREY, parts: [{ text: 'NO' }, { text: 'y', sub: true }, { text: ' (pptv)' }] }
                ]
            }
        },
        scales: {
            x: xScale(true),
            x2: {
                type: 'linear', min: 0, max: 420, position: 'bottom', weight: 1,
                afterFit: fixHeight(32),
                grid: { display: false, drawTicks: false },
                border: { display: true, color: '#333', width: 1.5 },
                ticks: { display: false },
                title: {
                    display: true, text: 'Sep 06, 2013', color: '#000',
                    font: { size: 22 }, padding: { top: 0, bottom: 0 }
                }
            },
            y: {
                min: 0, max: 10000, position: 'left',
                afterFit: fixWidth(121),
                grid: { display: false, drawTicks: false },
                border: { display: false },
                ticks: yTicks(0, 10000, 2000, 6, 6, INK, 7)
            },
            y2: {
                min: 0, max: 10000, position: 'right',
                afterFit: fixWidth(111),
                grid: { display: false, drawTicks: false },
                border: { display: false },
                ticks: yTicks(0, 10000, 2000, 6, 6, GREY, 9)
            }
        }
    },
    plugins: [frameTicks, subTitles]
});
</script>
</body>
</html>
